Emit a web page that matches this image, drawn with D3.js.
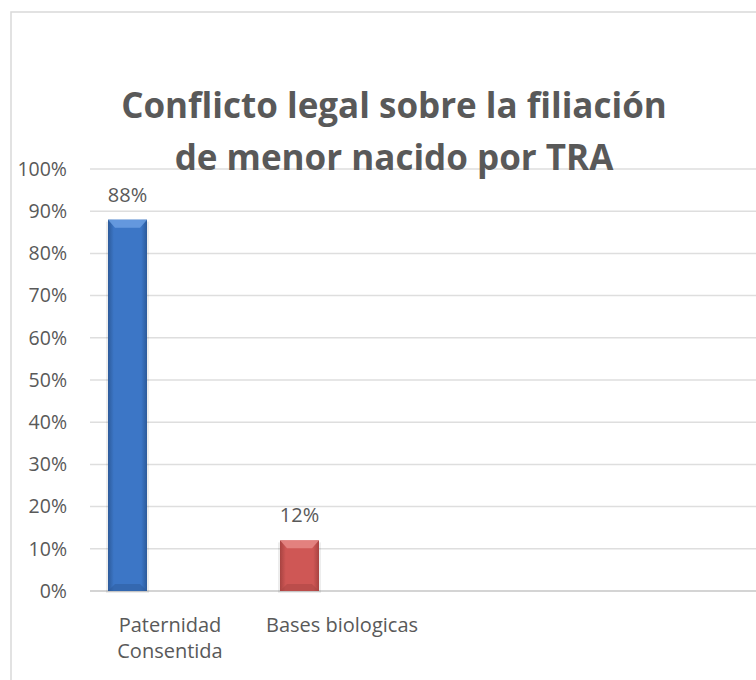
<!DOCTYPE html>
<html>
<head>
<meta charset="utf-8">
<script src="https://cdn.jsdelivr.net/npm/d3@7"></script>
<style>
  html, body { margin: 0; padding: 0; background: #fff; }
  svg { display: block; }
</style>
</head>
<body>
<svg id="chart" width="756" height="680"></svg>
<script>
// data
const categories = ['Paternidad Consentida', 'Bases biologicas'];
const labelLines = [['Paternidad', 'Consentida'], ['Bases biologicas']];
const values = [0.88, 0.12];
const tickValues = [0, 0.1, 0.2, 0.3, 0.4, 0.5, 0.6, 0.7, 0.8, 0.9, 1];
const titleLines = ['Conflicto legal sobre la filiación', 'de menor nacido por TRA'];

const svg = d3.select('#chart');
const font = '"Open Sans", Lato, sans-serif';
const textColor = '#595959';

// chart frame (cut off on the right and bottom, like the screenshot)
svg.append('rect')
    .attr('x', 11).attr('y', 12)
    .attr('width', 800).attr('height', 720)
    .attr('fill', '#fff')
    .attr('stroke', '#d9d9d9').attr('stroke-width', 1.5);

const y = d3.scaleLinear().domain([0, 1]).range([591, 169]);
const x = d3.scaleBand().domain(categories).range([84, 428]);
const barOffset = 24, barWidth = 39;

// gridlines
svg.append('g').selectAll('line').data(tickValues).enter().append('line')
    .attr('x1', 90).attr('x2', 756)
    .attr('y1', d => y(d)).attr('y2', d => y(d))
    .attr('stroke', d => d === 0 ? '#d4d4d4' : '#dedede')
    .attr('stroke-width', d => d === 0 ? 2 : 1.5);

// y axis labels
const yAxis = d3.axisLeft(y).tickValues(tickValues).tickFormat(d3.format('.0%')).tickSize(0).tickPadding(0);
const yg = svg.append('g').attr('transform', 'translate(67,0)').call(yAxis);
yg.select('.domain').remove();
yg.selectAll('text')
    .attr('font-family', font).attr('font-size', 19.5).attr('fill', textColor);

// gradients for the bevelled bars
const defs = svg.append('defs');
const palettes = [
    { id: 'g0', edge: '#2c5a9a', mid: '#3c76c6', top: '#6b9fe2' },
    { id: 'g1', edge: '#a84341', mid: '#cf5755', top: '#e68886' }
];
palettes.forEach(p => {
    const g = defs.append('linearGradient').attr('id', p.id).attr('x1', 0).attr('x2', 1);
    g.append('stop').attr('offset', '0%').attr('stop-color', p.edge);
    g.append('stop').attr('offset', '15%').attr('stop-color', p.mid);
    g.append('stop').attr('offset', '85%').attr('stop-color', p.mid);
    g.append('stop').attr('offset', '100%').attr('stop-color', p.edge);
});

const bars = svg.append('g').selectAll('g').data(categories).enter().append('g');

// soft shadow under the bars
bars.append('rect')
    .attr('x', d => x(d) + barOffset - 2)
    .attr('y', (d, i) => y(values[i]) + 2)
    .attr('width', barWidth + 4)
    .attr('height', (d, i) => y(0) - y(values[i]))
    .attr('fill', '#000').attr('opacity', 0.07);

bars.append('rect')
    .attr('x', d => x(d) + barOffset)
    .attr('y', (d, i) => y(values[i]))
    .attr('width', barWidth)
    .attr('height', (d, i) => y(0) - y(values[i]))
    .attr('fill', (d, i) => 'url(#g' + i + ')');

// lighter chamfer at the top of each bar
bars.append('path')
    .attr('d', (d, i) => {
        const x0 = x(d) + barOffset, x1 = x0 + barWidth, t = y(values[i]);
        return 'M' + x0 + ',' + t + 'L' + x1 + ',' + t + 'L' + (x1 - 7) + ',' + (t + 8) +
            'L' + (x0 + 7) + ',' + (t + 8) + 'Z';
    })
    .attr('fill', (d, i) => palettes[i].top).attr('opacity', 0.85);

// darker chamfer at the bottom
bars.append('path')
    .attr('d', (d, i) => {
        const x0 = x(d) + barOffset, x1 = x0 + barWidth, b = y(0);
        return 'M' + x0 + ',' + b + 'L' + x1 + ',' + b + 'L' + (x1 - 7) + ',' + (b - 7) +
            'L' + (x0 + 7) + ',' + (b - 7) + 'Z';
    })
    .attr('fill', (d, i) => palettes[i].edge).attr('opacity', 0.5);

// value labels
bars.append('text')
    .attr('x', d => x(d) + barOffset + barWidth / 2)
    .attr('y', (d, i) => y(values[i]) - 18)
    .attr('text-anchor', 'middle')
    .attr('font-family', font).attr('font-size', 20).attr('fill', textColor)
    .text((d, i) => d3.format('.0%')(values[i]));

// category labels
const cat = svg.append('g').selectAll('text').data(categories).enter().append('text')
    .attr('x', d => x(d) + x.bandwidth() / 2)
    .attr('y', 632)
    .attr('text-anchor', 'middle')
    .attr('font-family', font).attr('font-size', 20).attr('fill', textColor);
cat.selectAll('tspan').data((d, i) => labelLines[i]).enter().append('tspan')
    .attr('x', function() { return this.parentNode.getAttribute('x'); })
    .attr('dy', (d, i) => i === 0 ? 0 : 26)
    .text(d => d);

// title
svg.append('g').selectAll('text').data(titleLines).enter().append('text')
    .attr('x', 394)
    .attr('y', (d, i) => 118 + i * 52)
    .attr('text-anchor', 'middle')
    .attr('font-family', font).attr('font-weight', 700).attr('font-size', 35)
    .attr('fill', textColor)
    .text(d => d);
</script>
</body>
</html>
